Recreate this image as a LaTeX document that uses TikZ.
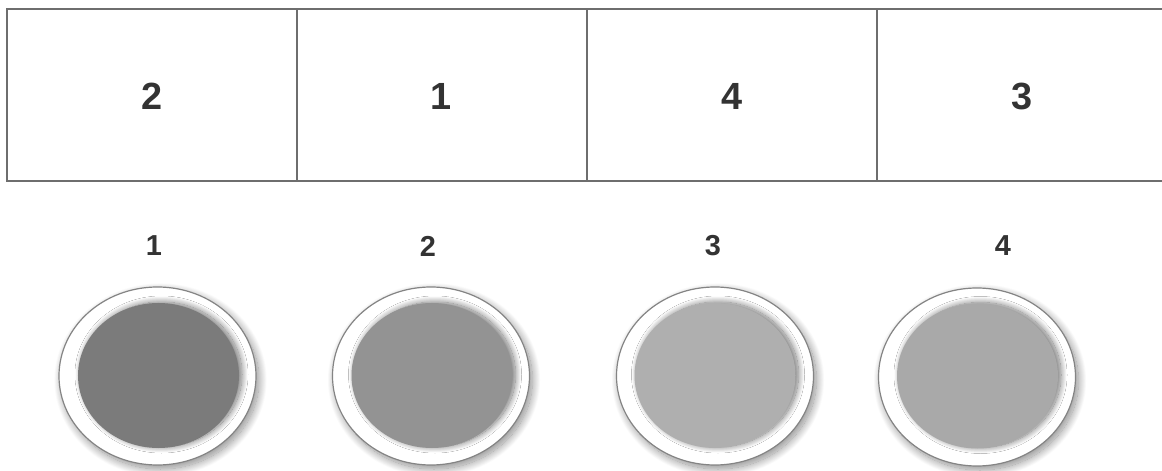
\documentclass[tikz,border=0pt]{standalone}
\usepackage{fontspec}
\setmainfont{Liberation Sans}
\usetikzlibrary{positioning,shapes.geometric,shadows.blur}
\definecolor{txtgray}{HTML}{333333}
\definecolor{linegray}{HTML}{6E6E6E}
\definecolor{coreA}{HTML}{7B7B7B}
\definecolor{coreB}{HTML}{939393}
\definecolor{coreC}{HTML}{AFAFAF}
\definecolor{coreD}{HTML}{A9A9A9}
\tikzset{
  gridln/.style={draw=linegray,line width=1.4bp},
  cellnum/.style={font=\fontsize{38}{40}\selectfont\bfseries,text=txtgray,inner sep=0pt},
  ballnum/.style={font=\fontsize{29}{32}\selectfont\bfseries,text=txtgray,inner sep=0pt},
  ring/.style={ellipse,draw=linegray!85,line width=1.2bp,fill=white,inner sep=0pt,
    minimum width=197bp,minimum height=178bp,
    blur shadow={shadow xshift=3bp,shadow yshift=-4bp,shadow blur radius=8bp,
      shadow blur steps=24,shadow opacity=45}},
  core/.style={ellipse,fill=#1,inner sep=0pt,minimum width=161bp,minimum height=145bp,
    blur shadow={shadow xshift=3bp,shadow yshift=1bp,shadow blur radius=6bp,
      shadow blur steps=24,shadow opacity=55}},
}
\begin{document}
\begin{tikzpicture}[x=1bp,y=-1bp]
  \useasboundingbox (0,0) rectangle (1162,471);
  % table row
  \coordinate (tl) at (7,9);
  \coordinate (tr) at (1162,9);
  \coordinate (bl) at (7,181);
  \coordinate (br) at (1162,181);
  \draw[gridln] (tr) -- (tl) -- (bl) -- (br);
  \foreach \x in {297,587,877}
    \draw[gridln] (\x,9) -- (\x,181);
  \node[cellnum] (c1) at (152,96.5) {2};
  \node[cellnum] (c2) at (441,96.5) {1};
  \node[cellnum] (c3) at (732,96.5) {4};
  \node[cellnum] (c4) at (1022,96.5) {3};
  % buttons
  \node[ballnum] (lab1) at (154,246) {1};
  \node[ballnum] (lab2) at (428,246) {2};
  \node[ballnum] (lab3) at (713,246) {3};
  \node[ballnum] (lab4) at (1003,246) {4};
  \node[ring] (ring1) at (157.5,376) {};
  \node[ring] (ring2) at (431,376) {};
  \node[ring] (ring3) at (715,376) {};
  \node[ring] (ring4) at (977,377) {};
  \node[core=coreA] (core1) at (158.5,375.5) {};
  \node[core=coreB] (core2) at (432,375.5) {};
  \node[core=coreC] (core3) at (715,375.5) {};
  \node[core=coreD] (core4) at (977.5,376) {};
\end{tikzpicture}
\end{document}
